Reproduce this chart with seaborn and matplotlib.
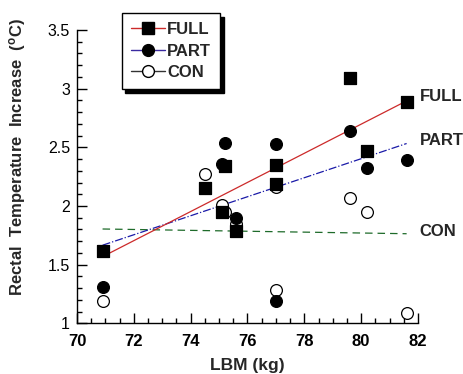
#!/usr/bin/env python3
"""Rectal temperature increase vs lean body mass for three conditions."""

import matplotlib
matplotlib.use("Agg")
import matplotlib.pyplot as plt
import pandas as pd
import seaborn as sns
from matplotlib.lines import Line2D
from matplotlib.ticker import MultipleLocator, FormatStrFormatter

sns.set_style("ticks")
plt.rcParams["font.family"] = ["Liberation Sans", "DejaVu Sans"]
plt.rcParams["mathtext.fontset"] = "custom"
plt.rcParams["mathtext.bf"] = "Liberation Sans:bold"
plt.rcParams["mathtext.rm"] = "Liberation Sans"

# Lean body mass of each subject (kg)
LBM = [70.9, 74.5, 75.1, 75.2, 75.6, 77.0, 77.0, 79.6, 80.2, 81.6]
# Rectal temperature increase (deg C) per condition
FULL = [1.62, 2.15, 1.95, 2.34, 1.79, 2.35, 2.19, 3.09, 2.47, 2.89]
PART = [1.31, 2.15, 2.36, 2.54, 1.90, 2.53, 1.19, 2.64, 2.32, 2.39]
CON = [1.19, 2.27, 2.01, 1.95, 1.85, 2.16, 1.28, 2.07, 1.95, 1.09]

GROUPS = ["FULL", "PART", "CON"]


def main():
    df = pd.DataFrame({"lbm": LBM * 3,
                       "temp": FULL + PART + CON,
                       "group": [g for g in GROUPS for _ in LBM]})

    style = {
        "FULL": dict(marker="s", face="black", line="#cc2a2a", ls="-",
                     leg="#cc2a2a"),
        "PART": dict(marker="o", face="black", line="#1a1aa8", ls="-.",
                     leg="#3a2aa0"),
        "CON": dict(marker="o", face="white", line="#1e6b2a",
                    ls=(0, (6, 4)), leg="#333333"),
    }

    fig = plt.figure(figsize=(4.63, 3.74), dpi=100)
    ax = fig.add_axes([0.1663, 0.1356, 0.7365, 0.7842])

    # draw CON first so the filled markers sit on top
    for i, g in enumerate(reversed(GROUPS)):
        st = style[g]
        sub = df[df["group"] == g]
        sns.regplot(data=sub, x="lbm", y="temp", ci=None, truncate=True,
                    ax=ax, marker=st["marker"],
                    scatter_kws=dict(s=72, facecolors=st["face"],
                                     edgecolors="black", linewidths=0.9,
                                     alpha=1, zorder=3 + i),
                    line_kws=dict(color=st["line"], ls=st["ls"], lw=0.9,
                                  zorder=2))

    ax.set(xlim=(70, 82), ylim=(1, 3.5))
    ax.xaxis.set_major_locator(MultipleLocator(2))
    ax.xaxis.set_minor_locator(MultipleLocator(0.5))
    ax.yaxis.set_major_locator(MultipleLocator(0.5))
    ax.yaxis.set_minor_locator(MultipleLocator(0.1))
    ax.yaxis.set_major_formatter(FormatStrFormatter("%g"))
    ax.tick_params(which="both", direction="in", colors="black")
    ax.tick_params(which="major", length=7, width=1)
    ax.tick_params(which="minor", length=3.5, width=1)
    ax.tick_params(axis="x", labelsize=12, pad=8)
    ax.tick_params(axis="y", labelsize=11.5, pad=5)
    for lab in ax.get_xticklabels():
        lab.set_fontweight("bold")
    sns.despine(ax=ax)
    for sp in ("left", "bottom"):
        ax.spines[sp].set_linewidth(1)
        ax.spines[sp].set_color("black")

    ax.set_xlabel("LBM (kg)", fontsize=12.5, fontweight="bold", labelpad=6)
    ax.set_ylabel(r"Rectal  Temperature  Increase  ($\mathbf{^{o}}$C)",
                  fontsize=12, fontweight="bold")
    ax.yaxis.set_label_coords(-0.145, 0.565)

    # line end labels
    for g, yv in zip(GROUPS, [2.93, 2.56, 1.78]):
        ax.text(82.05, yv, g, fontsize=12, fontweight="bold",
                va="center", ha="left", clip_on=False)

    handles = [Line2D([], [], color=style[g]["leg"], ls="-", lw=1,
                      marker=style[g]["marker"], markersize=8.5,
                      markerfacecolor=style[g]["face"],
                      markeredgecolor="black") for g in GROUPS]
    leg = ax.legend(handles, GROUPS, loc="upper left",
                    bbox_to_anchor=(0.2635, 0.965),
                    bbox_transform=fig.transFigure, borderaxespad=0,
                    fancybox=False, edgecolor="black", framealpha=1,
                    shadow={"color": "black", "alpha": 1,
                            "ox": 2.5, "oy": -2.5},
                    handlelength=2.0, handletextpad=0.15,
                    labelspacing=0.38, borderpad=0.55,
                    prop={"weight": "bold", "size": 12})
    leg.get_frame().set_linewidth(1)

    fig.savefig("out.png", dpi=100)


if __name__ == "__main__":
    main()
